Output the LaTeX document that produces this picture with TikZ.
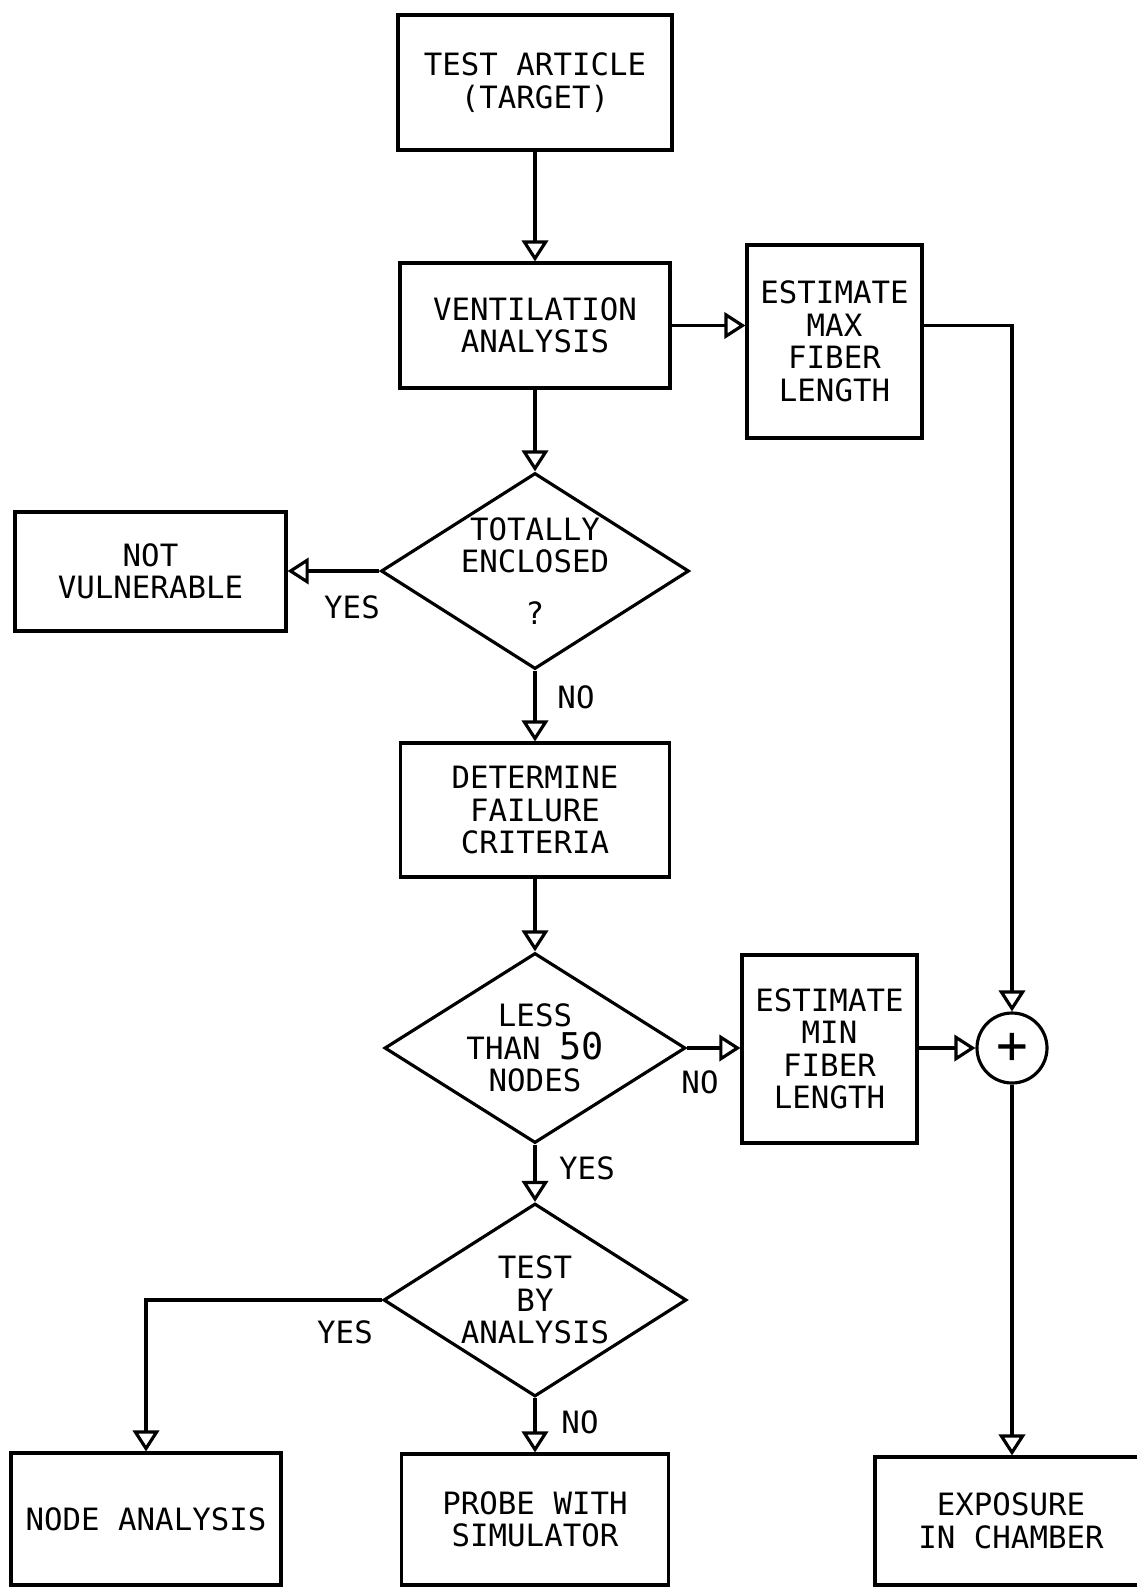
\documentclass[tikz,border=0pt]{standalone}
\usepackage{fontspec}
\setmonofont{DejaVu Sans Mono}
\usetikzlibrary{arrows.meta,shapes.geometric}
\begin{document}
\begin{tikzpicture}[>={Triangle[open,length=12pt,width=15pt]},x=1cm,y=1cm,line width=1.8pt,
	every node/.style={font=\ttfamily\fontsize{17.5}{18.5}\selectfont,align=center,inner sep=0pt},
	box/.style 2 args={draw,rectangle,minimum width=#1cm,minimum height=#2cm},
	decision/.style 2 args={draw,diamond,shape aspect=1.57,inner sep=-6pt,minimum width=#1cm,minimum height=#2cm},
	answer/.style={anchor=center}]
		\useasboundingbox (0,0) rectangle (22.74,-31.74);
		\node[box={5.48}{2.70}] (test) at (10.70,-1.65) {TEST ARTICLE\\(TARGET)};
		\node[box={5.40}{2.50}] (vent) at (10.70,-6.51) {VENTILATION\\ANALYSIS};
		\node[box={3.50}{3.86}] (estmax) at (16.69,-6.83) {ESTIMATE\\MAX\\FIBER\\LENGTH};
		\node[decision={6.16}{3.92}] (encl) at (10.70,-11.42) {TOTALLY\\ENCLOSED\\[11pt]?};
		\node[box={5.42}{2.38}] (notvul) at (3.01,-11.43) {NOT\\VULNERABLE};
		\node[box={5.38}{2.68}] (determ) at (10.70,-16.20) {DETERMINE\\FAILURE\\CRITERIA};
		\node[decision={6.02}{3.80}] (less) at (10.70,-20.96) {LESS\\THAN {\fontsize{21}{18.5}\selectfont 50}\\NODES};
		\node[box={3.50}{3.76}] (estmin) at (16.59,-20.98) {ESTIMATE\\MIN\\FIBER\\LENGTH};
		\node[draw,circle,minimum size=1.40cm] (plus) at (20.24,-20.96) {\fontsize{30}{30}\selectfont +};
		\node[decision={6.06}{3.86}] (bytest) at (10.70,-26.00) {TEST\\BY\\ANALYSIS};
		\node[box={5.40}{2.64}] (nodean) at (2.92,-30.38) {NODE ANALYSIS};
		\node[box={5.34}{2.62}] (probe) at (10.70,-30.39) {PROBE WITH\\SIMULATOR};
		\node[box={5.44}{2.56}] (expo) at (20.22,-30.42) {EXPOSURE\\IN CHAMBER};
		\node[answer] (yesA) at (7.04,-12.14) {YES};
		\node[answer] (noA) at (11.52,-13.94) {NO};
		\node[answer] (noB) at (14.00,-21.64) {NO};
		\node[answer] (yesB) at (11.74,-23.36) {YES};
		\node[answer] (yesC) at (6.90,-26.64) {YES};
		\node[answer] (noC) at (11.60,-28.44) {NO};
		\draw[->] (test) --(vent);
		\draw[->] (vent) --(encl);
		\draw[->] (vent.east) --(vent.east -| estmax.west);
		\draw[->] (estmax.east |- vent.east) -|(plus);
		\draw[->] (encl.west) --(encl.west -| notvul.east);
		\draw[->] (encl) --(determ);
		\draw[->] (determ) --(less);
		\draw[->] (less.east) --(less.east -| estmin.west);
		\draw[->] (plus -| estmin.east) --(plus);
		\draw[->] (less) --(bytest);
		\draw[->] (bytest.west) -|(nodean);
		\draw[->] (bytest) --(probe);
		\draw[->] (plus.south) --(plus.south |- expo.north);
\end{tikzpicture}
\end{document}
